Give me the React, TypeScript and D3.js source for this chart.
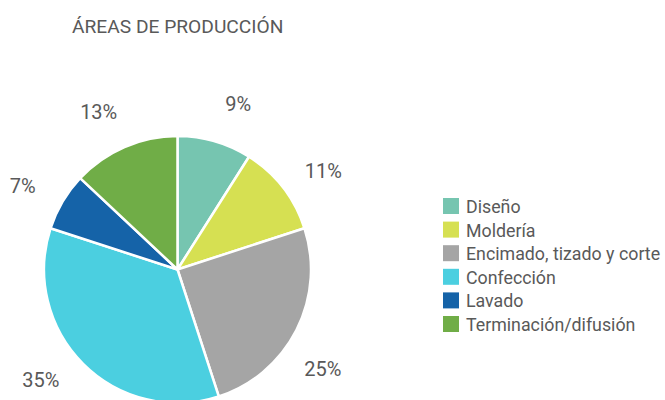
import React from "react";
import * as d3 from "d3";

const categories = ["Diseño", "Moldería", "Encimado, tizado y corte", "Confección", "Lavado", "Terminación/difusión"];
const values = [9, 11, 25, 35, 7, 13];
const colors = ["#76C5B0", "#D6E052", "#A5A5A5", "#4BCFE0", "#1563A8", "#70AD47"];
const title = "ÁREAS DE PRODUCCIÓN";

// layout (not data): small angular nudges (degrees) for label placement
const labelAngleShift = [4, 3.7, 7.4, 6, -2.2, -3.2];

const W = 665, H = 400;
const cx = 177.5, cy = 269.5, R = 133.5, labelR = 176;

export default function App() {
  const pie = d3.pie<number>().sort(null).value((d) => d);
  const arcs = pie(values);
  const arc = d3.arc<d3.PieArcDatum<number>>().innerRadius(0).outerRadius(R);
  const total = d3.sum(values);
  const legendY = d3.scaleLinear().domain([0, categories.length - 1]).range([206, 324]);
  const font = "Roboto, 'Noto Sans', sans-serif";
  return (
    <svg width={W} height={H} style={{ position: "absolute", left: 0, top: 0, background: "#fff" }} fontFamily={font}>
      <text x={72} y={32.5} fontSize={19.2} fill="#595959">{title}</text>
      <g transform={`translate(${cx},${cy})`}>
        {arcs.map((a, i) => (
          <path key={i} d={arc(a) || ""} fill={colors[i]} stroke="#fff" strokeWidth={2.5} strokeLinejoin="round" />
        ))}
        {arcs.map((a, i) => {
          const ang = (a.startAngle + a.endAngle) / 2 + (labelAngleShift[i] * Math.PI) / 180;
          const x = Math.sin(ang) * labelR;
          const y = -Math.cos(ang) * labelR;
          return (
            <text key={"l" + i} x={x} y={y} textAnchor="middle" dominantBaseline="central" fontSize={20} fill="#595959">
              {Math.round((values[i] / total) * 100)}%
            </text>
          );
        })}
      </g>
      {categories.map((c, i) => (
        <g key={c} transform={`translate(443,${legendY(i)})`}>
          <rect x={0} y={-8} width={16} height={16} fill={colors[i]} />
          <text x={23} y={0.5} dominantBaseline="central" fontSize={17.8} fill="#595959">{c}</text>
        </g>
      ))}
    </svg>
  );
}
